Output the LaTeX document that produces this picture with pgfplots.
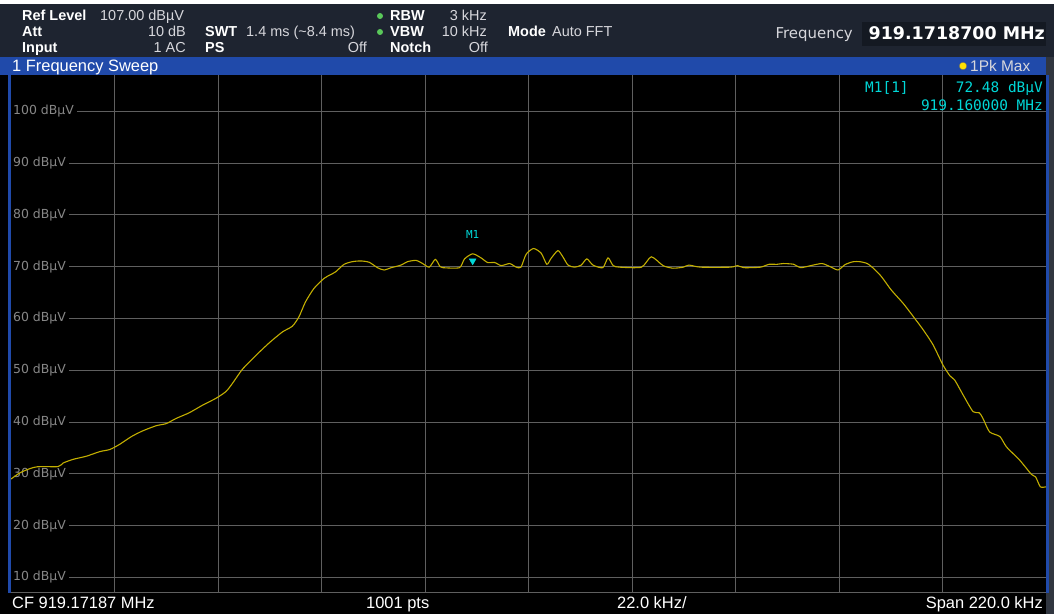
\documentclass[border=0pt]{standalone}
\usepackage{pgfplots}
\pgfplotsset{compat=1.18}
\usepackage{fontspec}
\setmainfont{Liberation Sans}
\newfontfamily\dejavu{DejaVu Sans}
\newfontfamily\mono{DejaVu Sans Mono}
\definecolor{panel}{RGB}{30,36,48}
\definecolor{panelbox}{RGB}{20,25,34}
\definecolor{barblue}{RGB}{32,74,170}
\definecolor{trace}{RGB}{195,175,0}
\definecolor{gridc}{RGB}{95,95,95}
\definecolor{mk}{RGB}{0,215,215}
\definecolor{lbl}{RGB}{135,135,135}
\definecolor{val}{RGB}{215,215,220}
\definecolor{ledg}{RGB}{90,200,90}

\pgfplotstableread{
f db
-110.0 29.0
-108.1 30.2
-106.0 31.0
-104.2 31.4
-100.0 31.4
-98.9 32.1
-96.8 32.8
-94.0 33.4
-91.1 34.3
-89.0 34.7
-86.9 35.7
-84.4 37.2
-82.0 38.3
-79.1 39.3
-77.0 39.7
-74.9 40.7
-72.1 41.8
-69.2 43.3
-66.4 44.6
-64.3 45.9
-62.9 47.5
-60.8 50.2
-57.9 52.9
-55.1 55.3
-52.3 57.4
-50.2 58.5
-48.8 60.3
-47.4 63.2
-45.6 65.8
-43.5 67.7
-42.2 68.4
-41.0 69.0
-39.2 70.45
-37.4 70.97
-35.6 71.1
-33.85 70.84
-32.1 69.8
-30.7 69.35
-29.2 69.8
-27.1 70.3
-25.7 70.97
-23.9 71.2
-22.5 70.6
-21.1 69.9
-19.8 71.4
-18.8 70.0
-18.2 69.8
-14.7 69.8
-13.6 71.5
-11.87 72.48
-10.1 71.7
-8.7 70.8
-7.2 70.8
-5.8 70.2
-4.0 70.6
-2.6 69.9
-1.6 69.9
-0.5 72.4
1.07 73.5
2.7 72.6
3.9 70.45
4.8 71.6
6.25 73.1
7.3 71.9
8.4 70.3
9.8 69.9
11.2 70.3
12.4 71.5
13.7 70.3
15.8 69.8
16.9 71.7
18.0 70.2
19.4 69.9
24.0 69.9
26.1 71.9
28.6 70.2
30.7 69.7
32.9 69.9
34.1 70.3
36.6 69.9
42.9 69.9
44.4 70.2
45.8 69.8
49.3 69.9
51.1 70.45
52.8 70.45
54.2 70.6
56.4 70.45
57.8 69.8
60.3 70.26
62.4 70.6
64.1 70.0
65.8 69.36
67.3 70.4
69.0 70.95
70.5 70.95
72.0 70.6
73.3 69.7
75.0 68.1
77.1 65.5
79.65 62.9
82.1 60.0
83.9 57.8
86.0 54.9
88.1 51.0
89.6 48.9
90.6 48.1
92.4 45.2
94.5 42.0
95.8 41.8
96.6 40.7
98.0 38.1
100.2 37.2
101.6 35.2
104.4 32.65
106.9 29.9
107.8 29.4
108.8 27.5
110.0 27.5
}\trace

\newcommand{\hdr}{\fontsize{14.5}{16}\selectfont}
\newcommand{\bigtxt}{\fontsize{16.5}{18}\selectfont}

\begin{document}
\begin{tikzpicture}[x=1bp,y=1bp]
% backgrounds (outside the plot area only)
\fill[black] (0,0) rectangle (1046,21);
\fill[black] (0,21) rectangle (8,539);
\fill[panel] (0,557) rectangle (1054,610);
\fill[white] (0,610) rectangle (1054,614);
\fill[panelbox] (862,568) rectangle (1046,592);
\fill[barblue] (0,539) rectangle (1046,557);
\fill[barblue] (8,21) rectangle (11,539);
\fill[panel!80!gray] (1046,0) rectangle (1054,557);
\fill[barblue] (1046,21) rectangle (1049,539);
\draw[gridc, line width=1bp] (11,21) -- (1046,21);

% header row 1
\node[anchor=base west, inner sep=0, text=white, font=\hdr\bfseries] at (22,593) {Ref Level};
\node[anchor=base west, inner sep=0, text=val, font=\hdr] at (100,593) {107.00 dBµV};
\fill[ledg] (380,598) circle (3);
\node[anchor=base west, inner sep=0, text=white, font=\hdr\bfseries] at (390,593) {RBW};
\node[anchor=base east, inner sep=0, text=val, font=\hdr] at (487,593) {3 kHz};
% header row 2
\node[anchor=base west, inner sep=0, text=white, font=\hdr\bfseries] at (22,577) {Att};
\node[anchor=base east, inner sep=0, text=val, font=\hdr] at (186,577) {10 dB};
\node[anchor=base west, inner sep=0, text=white, font=\hdr\bfseries] at (205,577) {SWT};
\node[anchor=base west, inner sep=0, text=val, font=\hdr] at (246,577) {1.4 ms (\char"007E 8.4 ms)};
\fill[ledg] (380,582) circle (3);
\node[anchor=base west, inner sep=0, text=white, font=\hdr\bfseries] at (390,577) {VBW};
\node[anchor=base east, inner sep=0, text=val, font=\hdr] at (487,577) {10 kHz};
\node[anchor=base west, inner sep=0, text=white, font=\hdr\bfseries] at (508,577) {Mode};
\node[anchor=base west, inner sep=0, text=val, font=\hdr] at (552,577) {Auto FFT};
% header row 3
\node[anchor=base west, inner sep=0, text=white, font=\hdr\bfseries] at (22,561) {Input};
\node[anchor=base east, inner sep=0, text=val, font=\hdr] at (186,561) {1 AC};
\node[anchor=base west, inner sep=0, text=white, font=\hdr\bfseries] at (205,561) {PS};
\node[anchor=base east, inner sep=0, text=val, font=\hdr] at (367,561) {Off};
\node[anchor=base west, inner sep=0, text=white, font=\hdr\bfseries] at (390,561) {Notch};
\node[anchor=base east, inner sep=0, text=val, font=\hdr] at (488,561) {Off};
% frequency
\node[anchor=base east, inner sep=0, text=val, font=\dejavu\fontsize{15}{17}\selectfont] at (853,575) {Frequency};
\node[anchor=base east, inner sep=0, text=white, font=\dejavu\bfseries\fontsize{17.5}{19}\selectfont] at (1045,574) {919.1718700 MHz};
% blue bar
\node[anchor=base west, inner sep=0, text=white, font=\bigtxt] at (12,542) {1 Frequency Sweep};
\fill[yellow!85!orange, draw=black!60] (963,548) circle (3.8);
\node[anchor=base west, inner sep=0, text=val, font=\fontsize{15.5}{17}\selectfont] at (970,542) {1Pk Max};
% bottom bar
\node[anchor=base west, inner sep=0, text=white, font=\bigtxt] at (12,5) {CF 919.17187 MHz};
\node[anchor=base west, inner sep=0, text=white, font=\bigtxt] at (366,5) {1001 pts};
\node[anchor=base west, inner sep=0, text=white, font=\bigtxt] at (617,5) {22.0 kHz/};
\node[anchor=base east, inner sep=0, text=white, font=\bigtxt] at (1043,5) {Span 220.0 kHz};

\begin{axis}[
  at={(11bp,21bp)}, anchor=south west, scale only axis,
  width=1035bp, height=518bp,
  xmin=-110, xmax=110, ymin=7, ymax=107,
  xtick={-88,-66,-44,-22,0,22,44,66,88},
  ytick={10,20,30,40,50,60,70,80,90,100},
  xticklabels={},
  yticklabels={10 dBµV,20 dBµV,30 dBµV,40 dBµV,50 dBµV,60 dBµV,70 dBµV,80 dBµV,90 dBµV,100 dBµV},
  axis background/.style={fill=black},
  grid=major,
  major grid style={draw=gridc, line width=0.9bp},
  axis line style={draw=none},
  major tick length=0pt,
  set layers,
  yticklabel style={anchor=west, xshift=-1bp, fill=black, text=lbl,
    inner xsep=3bp, inner ysep=1.5bp,
    font=\dejavu\fontsize{12.5}{14}\selectfont},
]
\addplot[trace, line width=1.1bp, smooth, tension=0.4] table[x=f, y=db] {\trace};
\addplot[only marks, mark=triangle*, mark size=4bp,
  mark options={rotate=180, fill=mk, draw=mk, yshift=7bp}] coordinates {(-11.87,72.48)};
\node[text=mk, font=\mono\fontsize{11}{12}\selectfont, inner sep=0] at (axis cs:-11.87,72.48) [yshift=19bp] {M1};
\end{axis}

% marker info
\node[anchor=base west, inner sep=0, text=mk, font=\mono\fontsize{14.5}{16}\selectfont] at (865,521) {M1[1]};
\node[anchor=base east, inner sep=0, text=mk, font=\mono\fontsize{14.5}{16}\selectfont] at (1043,521) {72.48 dBµV};
\node[anchor=base east, inner sep=0, text=mk, font=\mono\fontsize{14.5}{16}\selectfont] at (1043,503) {919.160000 MHz};

\pgfresetboundingbox
\path (0,0) rectangle (1054,614);
\end{tikzpicture}
\end{document}
